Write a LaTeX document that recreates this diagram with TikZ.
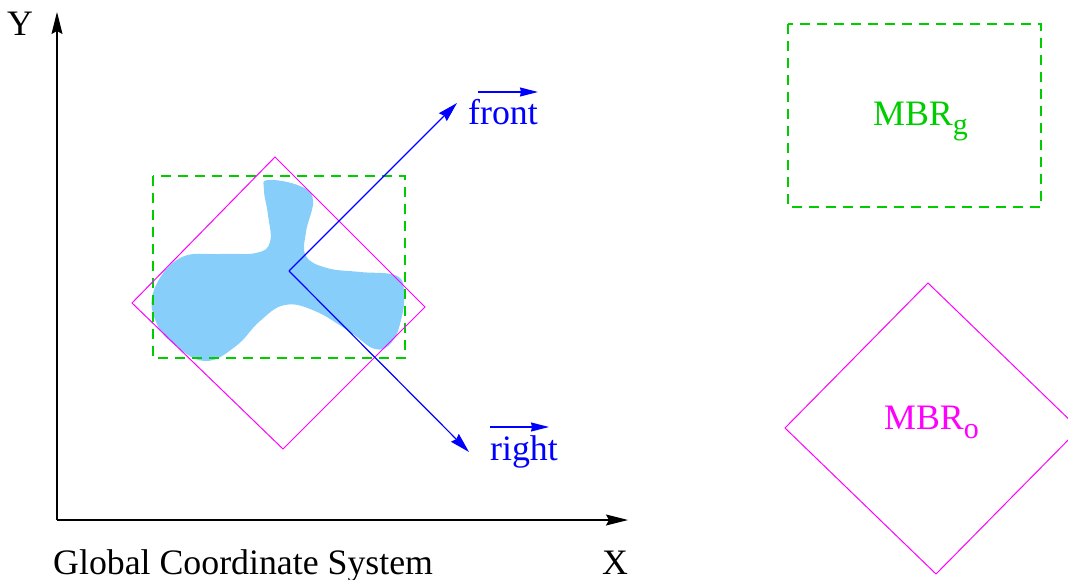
\documentclass[tikz,border=0pt]{standalone}
\usepackage{fontspec}
\setmainfont{Liberation Serif}
\usetikzlibrary{arrows.meta,calc}
\definecolor{mbrgreen}{RGB}{0,205,0}
\definecolor{mbrmagenta}{RGB}{255,0,255}
\definecolor{blobfill}{RGB}{135,206,250}
\newcommand{\vecover}[3]{%
  \draw[vecarrow] ($(#1.base west)+(#2,-33)$) -- ($(#1.base east)+(#3,-33)$);%
}
\newcommand{\mbrsub}[1]{\raisebox{-9pt}{\fontsize{30}{30}\selectfont #1}}

\begin{document}
\begin{tikzpicture}[x=1pt,y=-1pt,
  font=\fontsize{35.8}{40}\selectfont,
  axis/.style={line width=1.3pt,-{Stealth[length=22pt,width=11pt,inset=3pt]}},
  mbrbox/.style={mbrgreen,line width=2.8pt,dash pattern=on 10pt off 7pt},
  mbrdiam/.style={mbrmagenta,line width=1pt},
  dirarrow/.style={blue,line width=1.2pt,-{Stealth[length=20pt,width=11pt,inset=2pt]}},
  vecarrow/.style={blue,line width=1.2pt,-{Stealth[length=18pt,width=9pt,inset=1pt]}},
  lbl/.style={inner sep=0pt}]
  \useasboundingbox (0,0) rectangle (1068,580);
  % object shape
  \fill[blobfill] plot[smooth cycle,tension=0.7] coordinates {
    (268,180) (300,186) (313,200) (306,232) (306,256) (327,268) (360,272)
    (397,276) (404,295) (401,320) (392,342) (375,349) (350,332) (315,311)
    (285,305) (260,321) (236,346) (206,361) (176,346) (156,322) (154,290)
    (180,258) (220,254) (256,253) (270,242) (268,215) (264,190)};
  % global MBR and oriented MBR
  \draw[mbrbox] (153,176) rectangle (405,358);
  \draw[mbrdiam] (275,157) -- (425,307) -- (283,449) -- (132,303) -- cycle;
  % axes
  \coordinate (O) at (57,520);
  \coordinate (ytip) at (57,12);
  \coordinate (xtip) at (628,520);
  \draw[axis] (O) -- (ytip);
  \draw[axis] (O) -- (xtip);
  \node[lbl] (ylab) at (20,24) {Y};
  \node[lbl,anchor=base] (xlab) at (615,574) {X};
  \node[lbl,anchor=base west] (title) at (53,574) {Global Coordinate System};
  % object directions
  \coordinate (c) at (289,271);
  \coordinate (ftip) at (457,103);
  \coordinate (rtip) at (469,452);
  \draw[dirarrow] (c) -- (ftip);
  \draw[dirarrow] (c) -- (rtip);
  \node[lbl,blue,anchor=base west] (front) at (468,125) {front};
  \node[lbl,blue,anchor=base west] (right) at (490,460) {right};
  \vecover{front}{10}{0}
  \vecover{right}{0}{-9}
  % legend boxes
  \draw[mbrbox] (788,24) rectangle (1041,207);
  \node[lbl,mbrgreen,anchor=base west] (mbrg) at (873,126) {MBR\mbrsub{g}};
  \draw[mbrdiam] (928,283) -- (1079,429) -- (936,574) -- (785,428) -- cycle;
  \node[lbl,mbrmagenta,anchor=base west] (mbro) at (884,429) {MBR\mbrsub{o}};
\end{tikzpicture}
\end{document}
